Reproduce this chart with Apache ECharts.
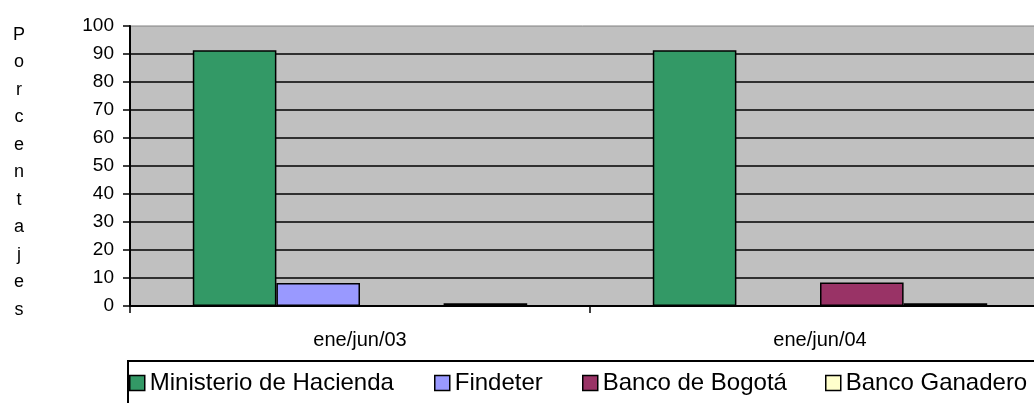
<!DOCTYPE html>
<html>
<head>
    <meta charset="UTF-8">
    <title>Porcentajes</title>
    <script src="https://cdn.jsdelivr.net/npm/echarts@6/dist/echarts.min.js"></script>
</head>
<body style="margin: 0;overflow: hidden;background: #fff;">
<div id="chart" style="width: 1034px;height: 403px"></div>
<script>
    var categories = ['ene/jun/03', 'ene/jun/04'];
    var seriesNames = ['Ministerio de Hacienda', 'Findeter', 'Banco de Bogotá', 'Banco Ganadero'];
    var hacienda = [91.3, 91.3];
    var findeter = [8.2, 0];
    var bogota = [0, 8.4];
    var ganadero = [1.0, 1.0];
    var yTitle = 'Porcentajes';

    var colors = ['#339966', '#9999FF', '#993366', '#FFFFCC'];
    var values = [hacienda, findeter, bogota, ganadero];
    var legendLeft = [129, 434, 582, 825];
    var font = 'Arial, "Liberation Sans", sans-serif';

    var chart = echarts.init(document.getElementById('chart'));

    var series = seriesNames.map(function (name, i) {
        return {
            name: name,
            type: 'bar',
            data: values[i],
            barGap: 0,
            barCategoryGap: '27.3%',
            itemStyle: {color: colors[i], borderColor: '#000', borderWidth: 1.5},
            emphasis: {disabled: true}
        };
    });

    var legends = seriesNames.map(function (name, i) {
        return {
            data: [name],
            left: legendLeft[i],
            top: 371,
            padding: 0,
            icon: 'rect',
            itemWidth: 15,
            itemHeight: 15,
            itemGap: 0,
            selectedMode: false,
            itemStyle: {borderColor: '#000', borderWidth: 1.5},
            textStyle: {fontFamily: font, fontSize: 24, color: '#000', lineHeight: 24, padding: [0, 0, 0, 0]}
        };
    });

    var option = {
        animation: false,
        grid: {
            left: 130, top: 26, width: 920, height: 280,
            outerBoundsMode: 'none',
            show: true, backgroundColor: '#C0C0C0', borderColor: '#808080', borderWidth: 1
        },
        xAxis: {
            type: 'category',
            data: categories,
            axisLine: {lineStyle: {color: '#000', width: 2}},
            axisTick: {show: true, length: 7, lineStyle: {color: '#000', width: 1.5}},
            axisLabel: {fontFamily: font, fontSize: 20, color: '#000', margin: 24}
        },
        yAxis: {
            type: 'value',
            min: 0, max: 100, interval: 10,
            axisLine: {show: true, lineStyle: {color: '#000', width: 2}},
            axisTick: {show: true, length: 7, lineStyle: {color: '#000', width: 1.5}},
            axisLabel: {fontFamily: font, fontSize: 19, color: '#000', margin: 16},
            splitLine: {show: true, showMaxLine: false, lineStyle: {color: '#000', width: 1.5}}
        },
        legend: legends,
        graphic: [
            {
                type: 'text', x: 19, y: 21,
                style: {
                    text: yTitle.split('').join('\n'),
                    font: '18px ' + font, fill: '#000',
                    textAlign: 'center', lineHeight: 27.5
                }
            },
            {
                type: 'rect', shape: {x: 128, y: 361, width: 1000, height: 100},
                style: {fill: 'none', stroke: '#000', lineWidth: 2}
            }
        ],
        series: series
    };
    chart.setOption(option);
</script>
</body>
</html>
